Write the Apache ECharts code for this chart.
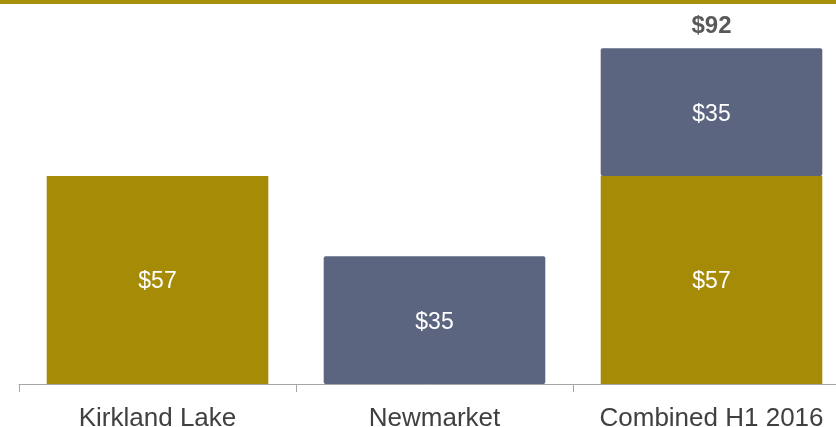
<!DOCTYPE html>
<html>
<head>
<meta charset="utf-8">
<script src="https://cdn.jsdelivr.net/npm/echarts@6/dist/echarts.min.js"></script>
<style>
html,body{margin:0;padding:0;background:#fff;}
#chart{width:836px;height:427px;}
</style>
</head>
<body>
<div id="chart"></div>
<script>
var categories = ['Kirkland Lake', 'Newmarket', 'Combined H1 2016'];
var kirklandValues = [57, null, 57];
var newmarketValues = [null, 35, 35];
var totalLabels = [null, null, 92];

var chart = echarts.init(document.getElementById('chart'));
var font = 'Liberation Sans, Arial, sans-serif';
chart.setOption({
  animation: false,
  graphic: [{
    type: 'rect', left: 0, top: 0,
    shape: { width: 836, height: 4 },
    style: { fill: '#A88F0A' }
  }],
  grid: { left: 19, right: -14, top: 19, bottom: 43, outerBoundsMode: 'none', containLabel: false },
  xAxis: {
    type: 'category',
    data: categories,
    axisLine: { lineStyle: { color: '#A6A6A6', width: 1 } },
    axisTick: { show: true, length: 8, lineStyle: { color: '#A6A6A6' } },
    axisLabel: { color: '#404040', fontSize: 26, fontFamily: font, margin: 22, interval: 0 }
  },
  yAxis: {
    type: 'value', min: 0, max: 100, show: false,
    splitLine: { show: false }
  },
  series: [
    {
      type: 'bar', stack: 'a', data: kirklandValues, barWidth: '80%',
      itemStyle: { color: '#A68B07' },
      label: { show: true, position: 'inside', offset: [0, 2], color: '#fff', fontSize: 23, fontFamily: font,
        formatter: function (p) { return '$' + p.value; } }
    },
    {
      type: 'bar', stack: 'a', data: newmarketValues, barWidth: '80%',
      itemStyle: { color: '#5B6580', borderRadius: 2 },
      label: { show: true, position: 'inside', offset: [0, 3], color: '#fff', fontSize: 23, fontFamily: font,
        formatter: function (p) { return '$' + p.value; } }
    },
    {
      type: 'bar', stack: 'a', barWidth: '80%',
      data: totalLabels.map(function (v) { return v == null ? null : 0; }),
      itemStyle: { color: 'transparent' },
      label: { show: true, position: 'top', distance: 10, color: '#595959', fontSize: 24,
        fontWeight: 'bold', fontFamily: font,
        formatter: function (p) { return totalLabels[p.dataIndex] == null ? '' : '$' + totalLabels[p.dataIndex]; } }
    }
  ]
});
</script>
</body>
</html>
